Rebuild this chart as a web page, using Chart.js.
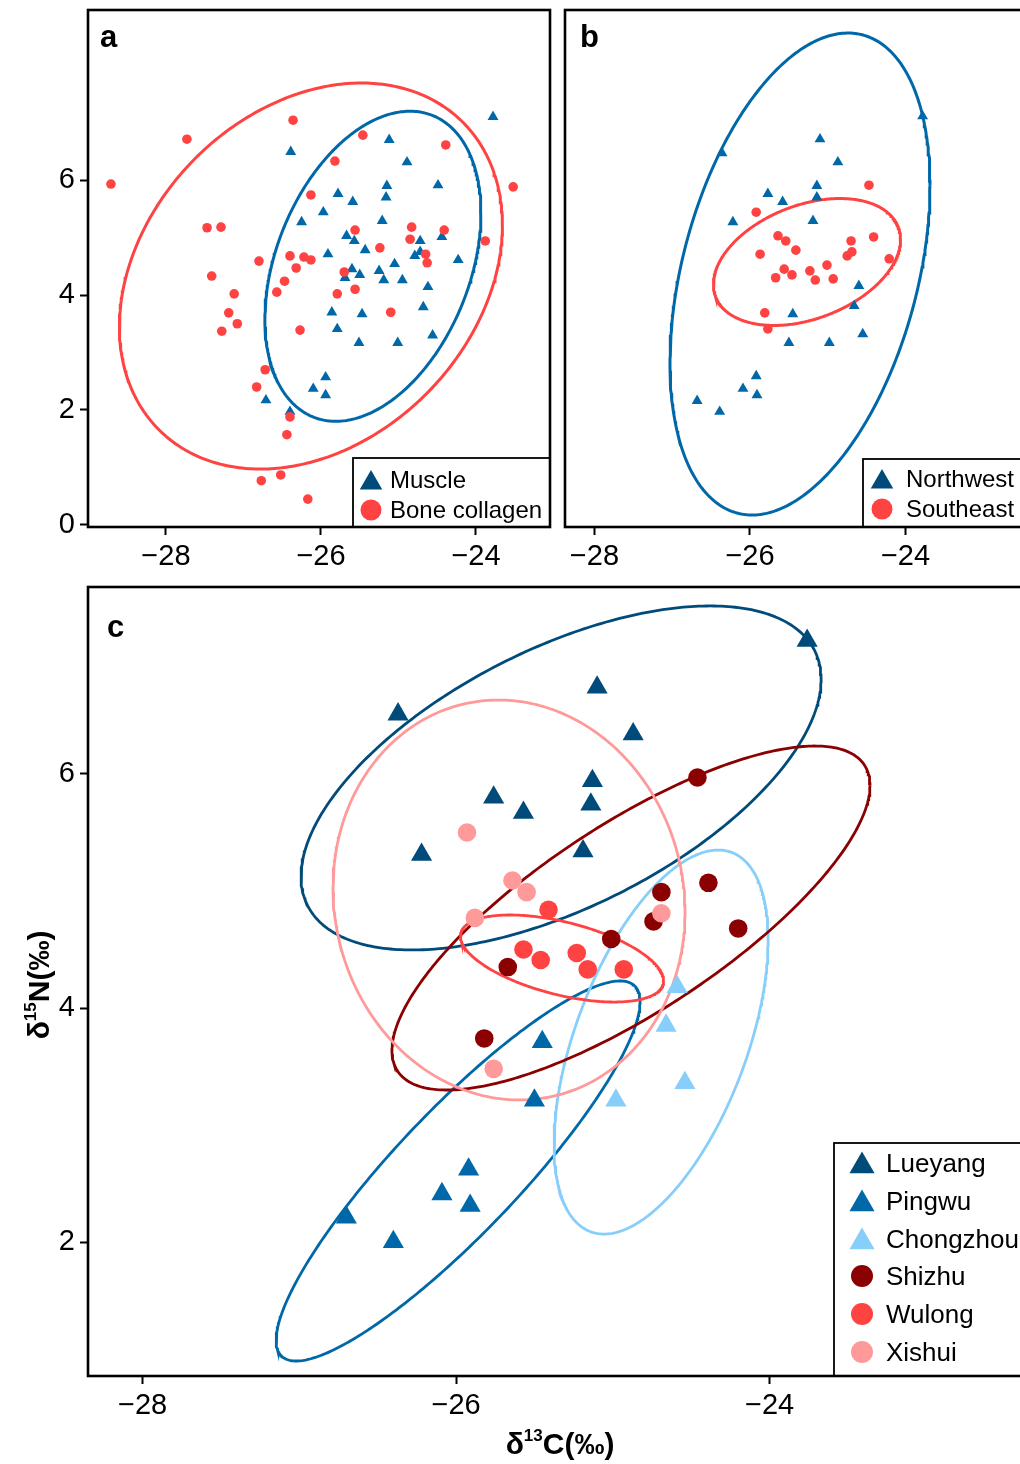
<!DOCTYPE html>
<html>
<head>
<meta charset="utf-8">
<script src="https://cdn.jsdelivr.net/npm/chart.js@4.4.1/dist/chart.umd.min.js"></script>
<style>
html,body{margin:0;padding:0;background:#fff;overflow:hidden;width:1020px;height:1464px;}
canvas{position:absolute;display:block;}
#ca{left:0;top:0;}
#cb{left:560px;top:0;}
#cc{left:0;top:580px;}
</style>
</head>
<body>
<canvas id="ca" width="560" height="580"></canvas>
<canvas id="cb" width="470" height="580"></canvas>
<canvas id="cc" width="1030" height="884"></canvas>
<script>
// ---------------- DATA ----------------
const xTickValues = [-28, -26, -24];
const yTickValuesA = [0, 2, 4, 6];
const yTickValuesC = [2, 4, 6];

// Panel a : delta13C, delta15N
const aMuscle = [[-26.39,6.49],[-25.97,5.44],[-26.25,5.27],[-25.91,4.71],[-23.78,7.10],[-25.12,6.70],[-24.89,6.31],[-24.49,5.91],[-25.15,5.90],[-25.16,5.70],[-25.78,5.76],[-25.59,5.62],[-25.21,5.29],[-25.67,5.03],[-25.57,4.94],[-24.72,4.94],[-24.44,5.01],[-25.43,4.78],[-24.72,4.75],[-24.79,4.68],[-24.23,4.61],[-25.05,4.54],[-25.60,4.45],[-25.50,4.35],[-25.69,4.30],[-25.25,4.42],[-25.19,4.26],[-24.95,4.26],[-24.62,4.14],[-25.86,3.70],[-25.47,3.67],[-24.68,3.79],[-25.79,3.41],[-25.51,3.17],[-25.01,3.17],[-24.56,3.30],[-25.94,2.57],[-26.10,2.37],[-25.94,2.26],[-26.71,2.17],[-26.40,1.97]];
const aBone = [[-26.36,7.04],[-27.73,6.71],[-28.71,5.93],[-26.13,5.74],[-27.47,5.17],[-27.29,5.18],[-26.80,4.59],[-26.40,4.68],[-26.22,4.66],[-26.13,4.61],[-26.32,4.47],[-26.47,4.24],[-26.57,4.05],[-27.41,4.33],[-27.12,4.02],[-27.19,3.69],[-27.08,3.50],[-27.28,3.37],[-26.27,3.39],[-26.72,2.70],[-26.83,2.40],[-26.40,1.88],[-26.44,1.57],[-26.77,0.77],[-26.52,0.87],[-26.17,0.45],[-25.46,6.78],[-24.39,6.61],[-25.82,6.33],[-23.52,5.88],[-25.56,5.13],[-24.83,5.18],[-24.41,5.13],[-24.85,4.97],[-25.24,4.82],[-24.65,4.71],[-24.63,4.56],[-23.88,4.94],[-25.70,4.40],[-25.79,4.02],[-25.56,4.10],[-25.10,3.70]];

// Panel b
const bNorthwest = [[-26.36,6.47],[-25.77,5.76],[-25.58,5.62],[-26.22,5.27],[-25.10,6.71],[-24.87,6.31],[-25.14,5.90],[-25.14,5.70],[-25.19,5.29],[-23.78,7.11],[-24.60,4.16],[-24.66,3.81],[-25.45,3.67],[-25.50,3.17],[-24.98,3.17],[-24.55,3.32],[-25.92,2.59],[-26.09,2.37],[-25.91,2.26],[-26.68,2.16],[-26.39,1.97]];
const bSoutheast = [[-25.92,5.44],[-25.64,5.03],[-25.54,4.94],[-25.41,4.78],[-25.87,4.71],[-25.56,4.45],[-25.67,4.30],[-25.46,4.35],[-25.23,4.42],[-25.16,4.26],[-25.01,4.52],[-24.93,4.28],[-24.70,4.94],[-24.69,4.75],[-24.75,4.68],[-24.41,5.01],[-24.47,5.91],[-24.21,4.63],[-25.81,3.69],[-25.77,3.41]];

// Panel c
const cLueyang = [[-26.37,6.51],[-25.10,6.74],[-23.76,7.14],[-24.87,6.34],[-25.13,5.94],[-25.14,5.74],[-25.76,5.80],[-25.57,5.67],[-26.22,5.31],[-25.19,5.34]];
const cPingwu = [[-25.45,3.71],[-25.50,3.21],[-25.92,2.62],[-26.09,2.41],[-25.91,2.31],[-26.70,2.21],[-26.40,2.00]];
const cChongzhou = [[-24.59,4.18],[-24.66,3.85],[-24.54,3.36],[-24.98,3.21]];
const cShizhu = [[-24.46,5.97],[-24.69,4.99],[-24.39,5.07],[-24.74,4.74],[-25.01,4.59],[-24.20,4.68],[-25.67,4.35],[-25.82,3.74]];
const cWulong = [[-25.41,4.84],[-25.57,4.50],[-25.46,4.41],[-25.23,4.47],[-25.16,4.33],[-24.93,4.33]];
const cXishui = [[-25.93,5.50],[-25.64,5.09],[-25.55,4.99],[-25.88,4.77],[-24.69,4.81],[-25.76,3.48]];

// Ellipses: [centre x, centre y, sd-x radius, sd-y radius, correlation]
const aMuscleEllipse = [-25.33, 4.50, 1.394, 2.696, 0.343];
const aBoneEllipse = [-26.13, 4.33, 2.471, 3.357, 0.264];
const bNorthwestEllipse = [-25.357, 4.365, 1.672, 4.191, 0.369];
const bSoutheastEllipse = [-25.267, 4.574, 1.203, 1.104, 0.353];
const cLueyangEllipse = [-25.330, 5.966, 1.659, 1.470, 0.573];
const cPingwuEllipse = [-25.987, 2.607, 1.161, 1.624, 0.890];
const cChongzhouEllipse = [-24.692, 3.709, 0.683, 1.641, 0.533];
const cShizhuEllipse = [-24.884, 4.769, 1.525, 1.470, 0.770];
const cWulongEllipse = [-25.324, 4.423, 0.648, 0.372, -0.512];
const cXishuiEllipse = [-25.662, 4.923, 1.123, 1.709, -0.06];

// ---------------- STYLE ----------------
const FONT = "'Liberation Sans', Arial, Helvetica, sans-serif";
const NAVY = '#004B7A', BLUE = '#0068A8', LIGHT = '#87CEFA', DKRED = '#8B0000', RED = '#FF4242', PINK = '#FF9A9A';

function ellipsePath(p) {
  const [cx, cy, sx, sy, r] = p;
  const q = Math.sqrt(1 - r * r);
  const out = [];
  for (let i = 0; i <= 360; i++) {
    const t = i / 360 * 2 * Math.PI;
    out.push({x: cx + sx * Math.cos(t), y: cy + sy * (r * Math.cos(t) + q * Math.sin(t))});
  }
  return out;
}
function pts(arr, color, style, radius) {
  return {data: arr.map(([x, y]) => ({x, y})), showLine: false, pointStyle: style,
    pointRadius: radius, pointHoverRadius: radius, pointBackgroundColor: color,
    pointBorderColor: color, pointBorderWidth: 0, backgroundColor: color, borderColor: color};
}
function ell(p, color, w) {
  return {data: ellipsePath(p), showLine: true, pointRadius: 0, pointHoverRadius: 0,
    borderColor: color, borderWidth: w, fill: false, tension: 0};
}
const fmt = v => (v < 0 ? '\u2212' + Math.abs(v) : String(v));

function marker(ctx, style, x, y, r, color) {
  ctx.fillStyle = color;
  ctx.beginPath();
  if (style === 'triangle') {
    ctx.moveTo(x, y - r);
    ctx.lineTo(x + r * Math.sin(2 * Math.PI / 3), y - r * Math.cos(2 * Math.PI / 3));
    ctx.lineTo(x + r * Math.sin(4 * Math.PI / 3), y - r * Math.cos(4 * Math.PI / 3));
    ctx.closePath();
  } else {
    ctx.arc(x, y, r, 0, 2 * Math.PI);
  }
  ctx.fill();
}
function drawParts(ctx, parts, x, y, rot) {
  ctx.save();
  ctx.translate(x, y);
  if (rot) ctx.rotate(rot);
  ctx.fillStyle = '#000';
  ctx.textBaseline = 'alphabetic';
  ctx.textAlign = 'left';
  let total = 0;
  parts.forEach(p => { ctx.font = p.font; p.w = ctx.measureText(p.t).width; total += p.w; });
  let cx = -total / 2;
  parts.forEach(p => { ctx.font = p.font; ctx.fillText(p.t, cx, p.dy || 0); cx += p.w; });
  ctx.restore();
}

const deco = {
  id: 'deco',
  afterDraw(chart, args, o) {
    const ctx = chart.ctx, a = chart.chartArea;
    ctx.save();
    if (o.legend) {
      const L = o.legend;
      ctx.fillStyle = '#fff';
      ctx.fillRect(L.left, L.top, a.right - L.left, a.bottom - L.top);
      ctx.strokeStyle = '#000';
      ctx.lineWidth = 1.8;
      ctx.strokeRect(L.left, L.top, a.right - L.left, a.bottom - L.top);
      L.items.forEach(it => {
        marker(ctx, it.style, L.mx, it.my, it.r, it.color);
        ctx.fillStyle = '#000';
        ctx.font = L.font;
        ctx.textBaseline = 'alphabetic';
        ctx.textAlign = 'left';
        ctx.fillText(it.label, L.tx, it.ty);
      });
    }
    ctx.strokeStyle = '#000';
    ctx.lineWidth = 2.6;
    ctx.strokeRect(a.left, a.top, a.right - a.left, a.bottom - a.top);
    if (o.panel) {
      ctx.fillStyle = '#000';
      ctx.font = 'bold 31px ' + FONT;
      ctx.textBaseline = 'alphabetic';
      ctx.textAlign = 'left';
      ctx.fillText(o.panel.t, o.panel.x, o.panel.y);
    }
    if (o.titles) {
      const big = 'bold 30px ' + FONT, sup = 'bold 17px ' + FONT;
      drawParts(ctx, [{t: '\u03b4', font: big}, {t: '13', font: sup, dy: -13}, {t: 'C(\u2030)', font: big}], 560, 874, 0);
      drawParts(ctx, [{t: '\u03b4', font: big}, {t: '15', font: sup, dy: -13}, {t: 'N(\u2030)', font: big}], 49, 405, -Math.PI / 2);
    }
    ctx.restore();
  }
};

function zeroPad(s) { s.paddingTop = 0; s.paddingBottom = 0; s.paddingLeft = 0; s.paddingRight = 0; }
function scales(cfg) {
  const tickFont = {family: FONT, size: 29};
  return {
    x: {
      type: 'linear', min: cfg.xmin, max: cfg.xmax,
      afterFit: s => { s.height = cfg.xh; zeroPad(s); },
      afterBuildTicks: s => { s.ticks = xTickValues.map(v => ({value: v})); },
      grid: {display: true, drawOnChartArea: false, drawTicks: true, tickLength: 8, tickColor: '#000', tickWidth: 2, color: '#000'},
      border: {display: false},
      ticks: {color: '#000', font: tickFont, padding: 5, maxRotation: 0, autoSkip: false, callback: v => fmt(v)}
    },
    y: {
      type: 'linear', min: cfg.ymin, max: cfg.ymax, display: cfg.yShow,
      afterFit: s => { s.width = cfg.yShow ? 88 : 0; zeroPad(s); },
      afterBuildTicks: s => { s.ticks = (cfg.yTicks || []).map(v => ({value: v})); },
      grid: {display: true, drawOnChartArea: false, drawTicks: true, tickLength: 8, tickColor: '#000', tickWidth: 2, color: '#000'},
      border: {display: false},
      ticks: {color: '#000', font: tickFont, padding: 5, autoSkip: false, callback: v => fmt(v)}
    }
  };
}
function baseOptions(cfg, decoOpts) {
  return {
    responsive: false, animation: false, events: [],
    layout: {padding: cfg.pad, autoPadding: false},
    plugins: {legend: {display: false}, tooltip: {enabled: false}, deco: decoOpts},
    scales: scales(cfg)
  };
}

// ---------------- PANEL A ----------------
new Chart(document.getElementById('ca'), {
  type: 'scatter',
  data: {datasets: [
    pts(aBone, RED, 'circle', 4.8),
    pts(aMuscle, BLUE, 'triangle', 6.3),
    ell(aMuscleEllipse, BLUE, 3),
    ell(aBoneEllipse, RED, 3)
  ]},
  options: baseOptions({xmin: -29.006, xmax: -23.045, ymin: -0.035, ymax: 8.957, xh: 53, yShow: true, yTicks: yTickValuesA,
    pad: {left: 0, top: 10, right: 10, bottom: 0}},
    {panel: {t: 'a', x: 100, y: 47},
     legend: {left: 353, top: 458, mx: 371, tx: 390, font: '24px ' + FONT, items: [
       {label: 'Muscle', style: 'triangle', color: NAVY, r: 13, my: 483, ty: 488},
       {label: 'Bone collagen', style: 'circle', color: RED, r: 10.5, my: 510, ty: 518}]}}),
  plugins: [deco]
});

// ---------------- PANEL B ----------------
new Chart(document.getElementById('cb'), {
  type: 'scatter',
  data: {datasets: [
    pts(bSoutheast, RED, 'circle', 4.8),
    pts(bNorthwest, BLUE, 'triangle', 6.3),
    ell(bSoutheastEllipse, RED, 3),
    ell(bNorthwestEllipse, BLUE, 3)
  ]},
  options: baseOptions({xmin: -28.379, xmax: -22.489, ymin: -0.035, ymax: 8.957, xh: 53, yShow: false, yTicks: [],
    pad: {left: 5, top: 10, right: 7, bottom: 0}},
    {panel: {t: 'b', x: 20, y: 47},
     legend: {left: 303, top: 459, mx: 322, tx: 346, font: '24px ' + FONT, items: [
       {label: 'Northwest', style: 'triangle', color: NAVY, r: 13, my: 482, ty: 487},
       {label: 'Southeast', style: 'circle', color: RED, r: 10.5, my: 509, ty: 517}]}}),
  plugins: [deco]
});

// ---------------- PANEL C ----------------
new Chart(document.getElementById('cc'), {
  type: 'scatter',
  data: {datasets: [
    pts(cXishui, PINK, 'circle', 9.3),
    pts(cShizhu, DKRED, 'circle', 9.3),
    pts(cWulong, RED, 'circle', 9.3),
    pts(cChongzhou, LIGHT, 'triangle', 12.2),
    pts(cPingwu, BLUE, 'triangle', 12.2),
    pts(cLueyang, NAVY, 'triangle', 12.2),
    ell(cXishuiEllipse, PINK, 2.8),
    ell(cWulongEllipse, RED, 2.8),
    ell(cShizhuEllipse, DKRED, 2.8),
    ell(cChongzhouEllipse, LIGHT, 2.8),
    ell(cPingwuEllipse, BLUE, 2.8),
    ell(cLueyangEllipse, NAVY, 2.8)
  ]},
  options: baseOptions({xmin: -28.348, xmax: -22.383, ymin: 0.855, ymax: 7.598, xh: 88, yShow: true, yTicks: yTickValuesC,
    pad: {left: 0, top: 7, right: 7, bottom: 0}},
    {panel: {t: 'c', x: 107, y: 57}, titles: true,
     legend: {left: 834, top: 563, mx: 862, tx: 886, font: '26px ' + FONT, items: [
       {label: 'Lueyang', style: 'triangle', color: NAVY, r: 14.5, my: 586, ty: 592},
       {label: 'Pingwu', style: 'triangle', color: BLUE, r: 14.5, my: 624, ty: 630},
       {label: 'Chongzhou', style: 'triangle', color: LIGHT, r: 14.5, my: 662, ty: 668},
       {label: 'Shizhu', style: 'circle', color: DKRED, r: 11, my: 696, ty: 705},
       {label: 'Wulong', style: 'circle', color: RED, r: 11, my: 734, ty: 743},
       {label: 'Xishui', style: 'circle', color: PINK, r: 11, my: 772, ty: 781}]}}),
  plugins: [deco]
});
</script>
</body>
</html>
